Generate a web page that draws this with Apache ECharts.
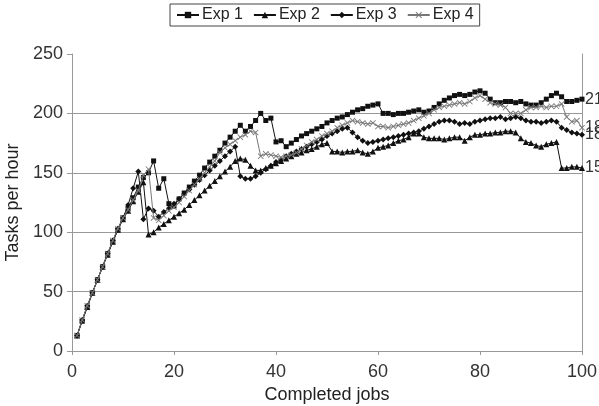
<!DOCTYPE html>
<html><head><meta charset="utf-8">
<script src="https://cdn.jsdelivr.net/npm/echarts@6/dist/echarts.min.js"></script>
<style>html,body{margin:0;padding:0;background:#fff}#c{width:599px;height:406px}</style>
</head><body><div id="c"></div>
<script>
const jobs = [1,2,3,4,5,6,7,8,9,10,11,12,13,14,15,16,17,18,19,20,21,22,23,24,25,26,27,28,29,30,31,32,33,34,35,36,37,38,39,40,41,42,43,44,45,46,47,48,49,50,51,52,53,54,55,56,57,58,59,60,61,62,63,64,65,66,67,68,69,70,71,72,73,74,75,76,77,78,79,80,81,82,83,84,85,86,87,88,89,90,91,92,93,94,95,96,97,98,99,100];
const exp1 = [13,25,37,49,60,71,82,92,102,112, 120,129,138,146,150,160,137,145,124,122,
  128,133,138,143,148,154,159,164,169,175, 180,185,190,185,189,194,200,194,196,176,
  177,172,175,178,181,183,185,187,189,192, 194,196,197,199,201,203,204,206,207,208,
  200,200,199,200,200,201,202,203,201,202, 205,208,211,213,215,216,215,216,218,219,
  217,212,209,209,210,210,209,210,208,207, 207,209,212,215,217,214,210,210,211,212];
const exp2 = [13,26,37,49,60,71,81,92,102,111, 118,126,134,142,98,100,104,107,110,113,
  116,119,123,127,131,135,139,143,147,151, 155,160,162,161,156,152,152,154,156,158,
  160,162,164,166,167,169,170,172,174,175, 168,168,167,168,168,169,167,166,168,171,
  172,173,175,177,178,180,183,183,180,179, 179,179,178,179,180,180,177,180,182,182,
  183,183,184,184,185,185,184,179,176,175, 173,172,174,175,176,154,154,155,155,154];
const exp3 = [13,26,38,49,60,71,82,93,103,112, 123,137,151,111,120,118,113,117,120,124,
  128,132,136,140,144,148,152,156,160,164, 168,172,147,145,145,147,150,153,156,159,
  161,164,166,168,170,172,174,176,178,181, 183,185,187,188,184,180,177,175,176,177,
  178,179,180,181,182,183,184,185,187,189, 191,193,194,194,193,191,192,191,193,194,
  195,196,196,197,195,196,197,196,194,193, 193,192,193,194,193,188,186,184,183,182];
const exp4 = [13,26,38,49,60,71,82,93,103,112, 119,127,135,148,153,112,110,114,118,121,
  125,130,135,140,145,150,155,160,167,171, 174,177,180,182,185,184,164,166,165,164,
  163,164,165,167,170,173,176,178,181,183, 185,188,190,192,194,193,192,191,192,189,
  189,188,189,190,191,192,194,196,198,200, 203,205,206,207,208,209,208,210,213,215,
  212,209,208,207,205,200,200,200,203,205, 205,206,205,206,206,208,197,193,194,188];
const seriesNames = ['Exp 1','Exp 2','Exp 3','Exp 4'];
const xTicks = [0,20,40,60,80,100];
const yTicks = [0,50,100,150,200,250];

const FONT = 'Liberation Sans, Arial, Helvetica, sans-serif';
const xSymbol = 'path://M0,1L1,0L5,4L9,0L10,1L6,5L10,9L9,10L5,6L1,10L0,9L4,5Z';
const styles = [
  {symbol:'rect', size:5, color:'#111'},
  {symbol:'triangle', size:6, color:'#111'},
  {symbol:'diamond', size:6, color:'#111'},
  {symbol:xSymbol, size:6, color:'#777'}
];
const all = [exp1, exp2, exp3, exp4];

const chart = echarts.init(document.getElementById('c'), null, {renderer:'canvas'});
chart.setOption({
  animation:false,
  backgroundColor:'#fff',
  textStyle:{fontFamily:FONT},
  legend:{
    data:seriesNames, left:170, top:4, orient:'horizontal',
    borderColor:'#444', borderWidth:1, padding:[3,6,3,6], itemGap:10,
    itemWidth:22, itemHeight:8,
    textStyle:{fontFamily:FONT, fontSize:16, color:'#222', padding:[0,0,0,-2]}
  },
  grid:{left:72, right:17, top:54, bottom:55, containLabel:false, outerBoundsMode:'none'},
  xAxis:{
    type:'value', min:0, max:100, interval:20,
    name:'Completed jobs', nameLocation:'middle', nameGap:26,
    nameTextStyle:{fontFamily:FONT, fontSize:18, color:'#222'},
    axisLine:{show:true, lineStyle:{color:'#999', width:1}},
    axisTick:{show:true, length:4, lineStyle:{color:'#999'}},
    axisLabel:{fontFamily:FONT, fontSize:18, color:'#333', margin:12},
    splitLine:{show:false}
  },
  yAxis:[{
    type:'value', min:0, max:250, interval:50,
    name:'Tasks per hour', nameLocation:'middle', nameGap:41, nameRotate:90,
    nameTextStyle:{fontFamily:FONT, fontSize:18, color:'#222'},
    axisLine:{show:true, lineStyle:{color:'#999', width:1}},
    axisTick:{show:true, length:5, lineStyle:{color:'#999'}},
    axisLabel:{fontFamily:FONT, fontSize:18, color:'#333', margin:9},
    splitLine:{show:true, lineStyle:{color:['#999','#999','#999','#999','#999','rgba(0,0,0,0)'], width:1}}
  },{
    type:'value', min:0, max:250, interval:50, position:'right',
    axisLine:{show:true, lineStyle:{color:'#999', width:1}},
    axisTick:{show:false}, axisLabel:{show:false}, splitLine:{show:false}
  }],
  series: seriesNames.map((n, k) => ({
    name:n, type:'line', yAxisIndex:0,
    data: jobs.map((j, i) => [j, all[k][i]]),
    symbol: styles[k].symbol, symbolSize: styles[k].size,
    showAllSymbol:true,
    lineStyle:{width:1, color:styles[k].color},
    itemStyle:{color:styles[k].color},
    endLabel:{show:true, formatter: p => String(p.value[1]), fontFamily:FONT, fontSize:16, color:'#333', distance:3},
    z: 2 + k
  }))
});
</script></body></html>
